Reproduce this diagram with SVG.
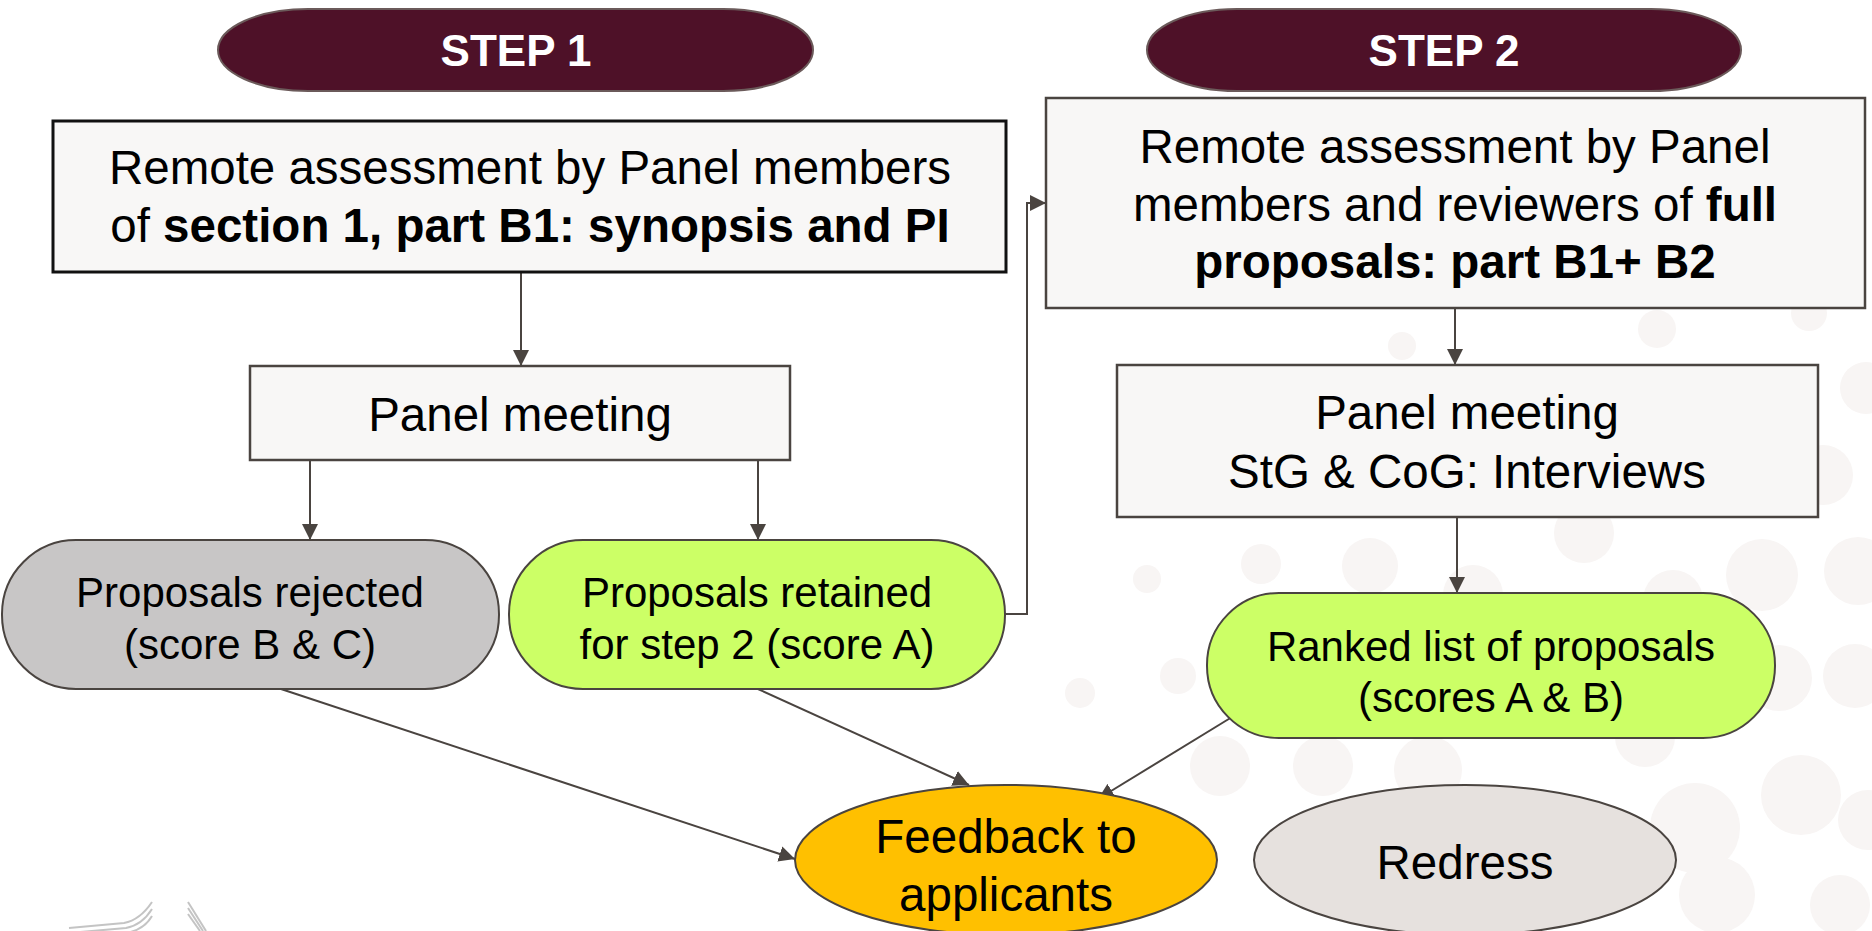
<svg xmlns="http://www.w3.org/2000/svg" width="1872" height="931" viewBox="0 0 1872 931">
<defs>
<marker id="ah" viewBox="0 0 10 10" refX="10" refY="5" markerWidth="16" markerHeight="16" markerUnits="userSpaceOnUse" orient="auto">
<path d="M0,0 L10,5 L0,10 z" fill="#4a4440"/>
</marker>
<style>
.t{font-family:"Liberation Sans",Arial,sans-serif;font-size:47.5px;fill:#000;text-anchor:middle}
.s{font-size:42px}
.b{font-weight:bold}
.step{font-family:"Liberation Sans",Arial,sans-serif;font-size:44px;font-weight:bold;fill:#fff;text-anchor:middle}
.box{fill:#f8f7f6;stroke:#4a4440;stroke-width:2.5}
.c{fill:none;stroke:#4a4440;stroke-width:2;marker-end:url(#ah)}
.dot{fill:#f8f5f4}
.logo{fill:none;stroke:#c4c4c4;stroke-width:2}
</style>
</defs>
<rect width="1872" height="931" fill="#fff"/>
<g id="background">
<circle class="dot" cx="1657" cy="329" r="19"/>
<circle class="dot" cx="1402" cy="346" r="14"/>
<circle class="dot" cx="1809" cy="313" r="18"/>
<circle class="dot" cx="1866" cy="388" r="26"/>
<circle class="dot" cx="1823" cy="475" r="30"/>
<circle class="dot" cx="1584" cy="533" r="30"/>
<circle class="dot" cx="1370" cy="566" r="28"/>
<circle class="dot" cx="1261" cy="564" r="20"/>
<circle class="dot" cx="1147" cy="579" r="14"/>
<circle class="dot" cx="1762" cy="575" r="36"/>
<circle class="dot" cx="1858" cy="571" r="34"/>
<circle class="dot" cx="1673" cy="600" r="30"/>
<circle class="dot" cx="1473" cy="595" r="30"/>
<circle class="dot" cx="1178" cy="676" r="18"/>
<circle class="dot" cx="1080" cy="693" r="15"/>
<circle class="dot" cx="1779" cy="678" r="33"/>
<circle class="dot" cx="1855" cy="676" r="32"/>
<circle class="dot" cx="1220" cy="766" r="30"/>
<circle class="dot" cx="1323" cy="766" r="30"/>
<circle class="dot" cx="1428" cy="770" r="34"/>
<circle class="dot" cx="1645" cy="737" r="30"/>
<circle class="dot" cx="1801" cy="795" r="40"/>
<circle class="dot" cx="1695" cy="828" r="45"/>
<circle class="dot" cx="1868" cy="820" r="30"/>
<circle class="dot" cx="1717" cy="895" r="38"/>
<circle class="dot" cx="1840" cy="905" r="30"/>
</g>
<g id="logo">
<path class="logo" d="M69,928 L124,923 Q140,920 152,902"/>
<path class="logo" d="M69,933 L126,928 Q142,925 152,909"/>
<path class="logo" d="M126,933 Q144,930 152,916"/>
<path class="logo" d="M188,902 L206,931"/>
<path class="logo" d="M188,908 L203,931"/>
<path class="logo" d="M188,914 L200,931"/>
</g>
<g id="connectors">
<path class="c" d="M521,272 L521,366"/>
<path class="c" d="M310,460 L310,540"/>
<path class="c" d="M758,460 L758,540"/>
<path class="c" d="M1005,614 L1027,614 L1027,203 L1046,203"/>
<path class="c" d="M1455,308 L1455,365"/>
<path class="c" d="M1457,517 L1457,593"/>
<path class="c" d="M281,689 L795,859"/>
<path class="c" d="M758,689 L969,785"/>
<path class="c" d="M1232,717 L1098,799"/>
</g>
<g id="step1">
<rect x="218" y="9" width="595" height="82" rx="90" ry="41" fill="#4e1128" stroke="#6b5a5a" stroke-width="2"/>
<text class="step" x="516" y="66">STEP 1</text>
</g>
<g id="step2">
<rect x="1147" y="9" width="594" height="82" rx="90" ry="41" fill="#4e1128" stroke="#6b5a5a" stroke-width="2"/>
<text class="step" x="1444" y="66">STEP 2</text>
</g>
<g id="remote1">
<rect class="box" x="53" y="121" width="953" height="151" style="stroke:#111;stroke-width:3"/>
<text class="t" x="530" y="184">Remote assessment by Panel members</text>
<text class="t" x="530" y="242">of <tspan class="b">section 1, part B1: synopsis and PI</tspan></text>
</g>
<g id="remote2">
<rect class="box" x="1046" y="98" width="819" height="210"/>
<text class="t" x="1455" y="163">Remote assessment by Panel</text>
<text class="t" x="1455" y="221">members and reviewers of <tspan class="b">full</tspan></text>
<text class="t b" x="1455" y="278">proposals: part B1+ B2</text>
</g>
<g id="panel1">
<rect class="box" x="250" y="366" width="540" height="94"/>
<text class="t" x="520" y="431">Panel meeting</text>
</g>
<g id="panel2">
<rect class="box" x="1117" y="365" width="701" height="152"/>
<text class="t" x="1467" y="429">Panel meeting</text>
<text class="t" x="1467" y="488">StG &amp; CoG: Interviews</text>
</g>
<g id="rejected">
<rect x="2" y="540" width="497" height="149" rx="74" ry="74" fill="#c8c6c6" stroke="#4a4440" stroke-width="2"/>
<text class="t s" x="250" y="607">Proposals rejected</text>
<text class="t s" x="250" y="659">(score B &amp; C)</text>
</g>
<g id="retained">
<rect x="509" y="540" width="496" height="149" rx="74" ry="74" fill="#ccff66" stroke="#4a4440" stroke-width="2"/>
<text class="t s" x="757" y="607">Proposals retained</text>
<text class="t s" x="757" y="659">for step 2 (score A)</text>
</g>
<g id="ranked">
<rect x="1207" y="593" width="568" height="145" rx="72" ry="72" fill="#ccff66" stroke="#4a4440" stroke-width="2"/>
<text class="t s" x="1491" y="661">Ranked list of proposals</text>
<text class="t s" x="1491" y="712">(scores A &amp; B)</text>
</g>
<g id="feedback">
<ellipse cx="1006" cy="860" rx="211" ry="75" fill="#ffc000" stroke="#4a4440" stroke-width="2"/>
<text class="t" x="1006" y="853">Feedback to</text>
<text class="t" x="1006" y="911">applicants</text>
</g>
<g id="redress">
<ellipse cx="1465" cy="860" rx="211" ry="75" fill="#e6e1de" stroke="#4a4440" stroke-width="2"/>
<text class="t" x="1465" y="879">Redress</text>
</g>
</svg>
